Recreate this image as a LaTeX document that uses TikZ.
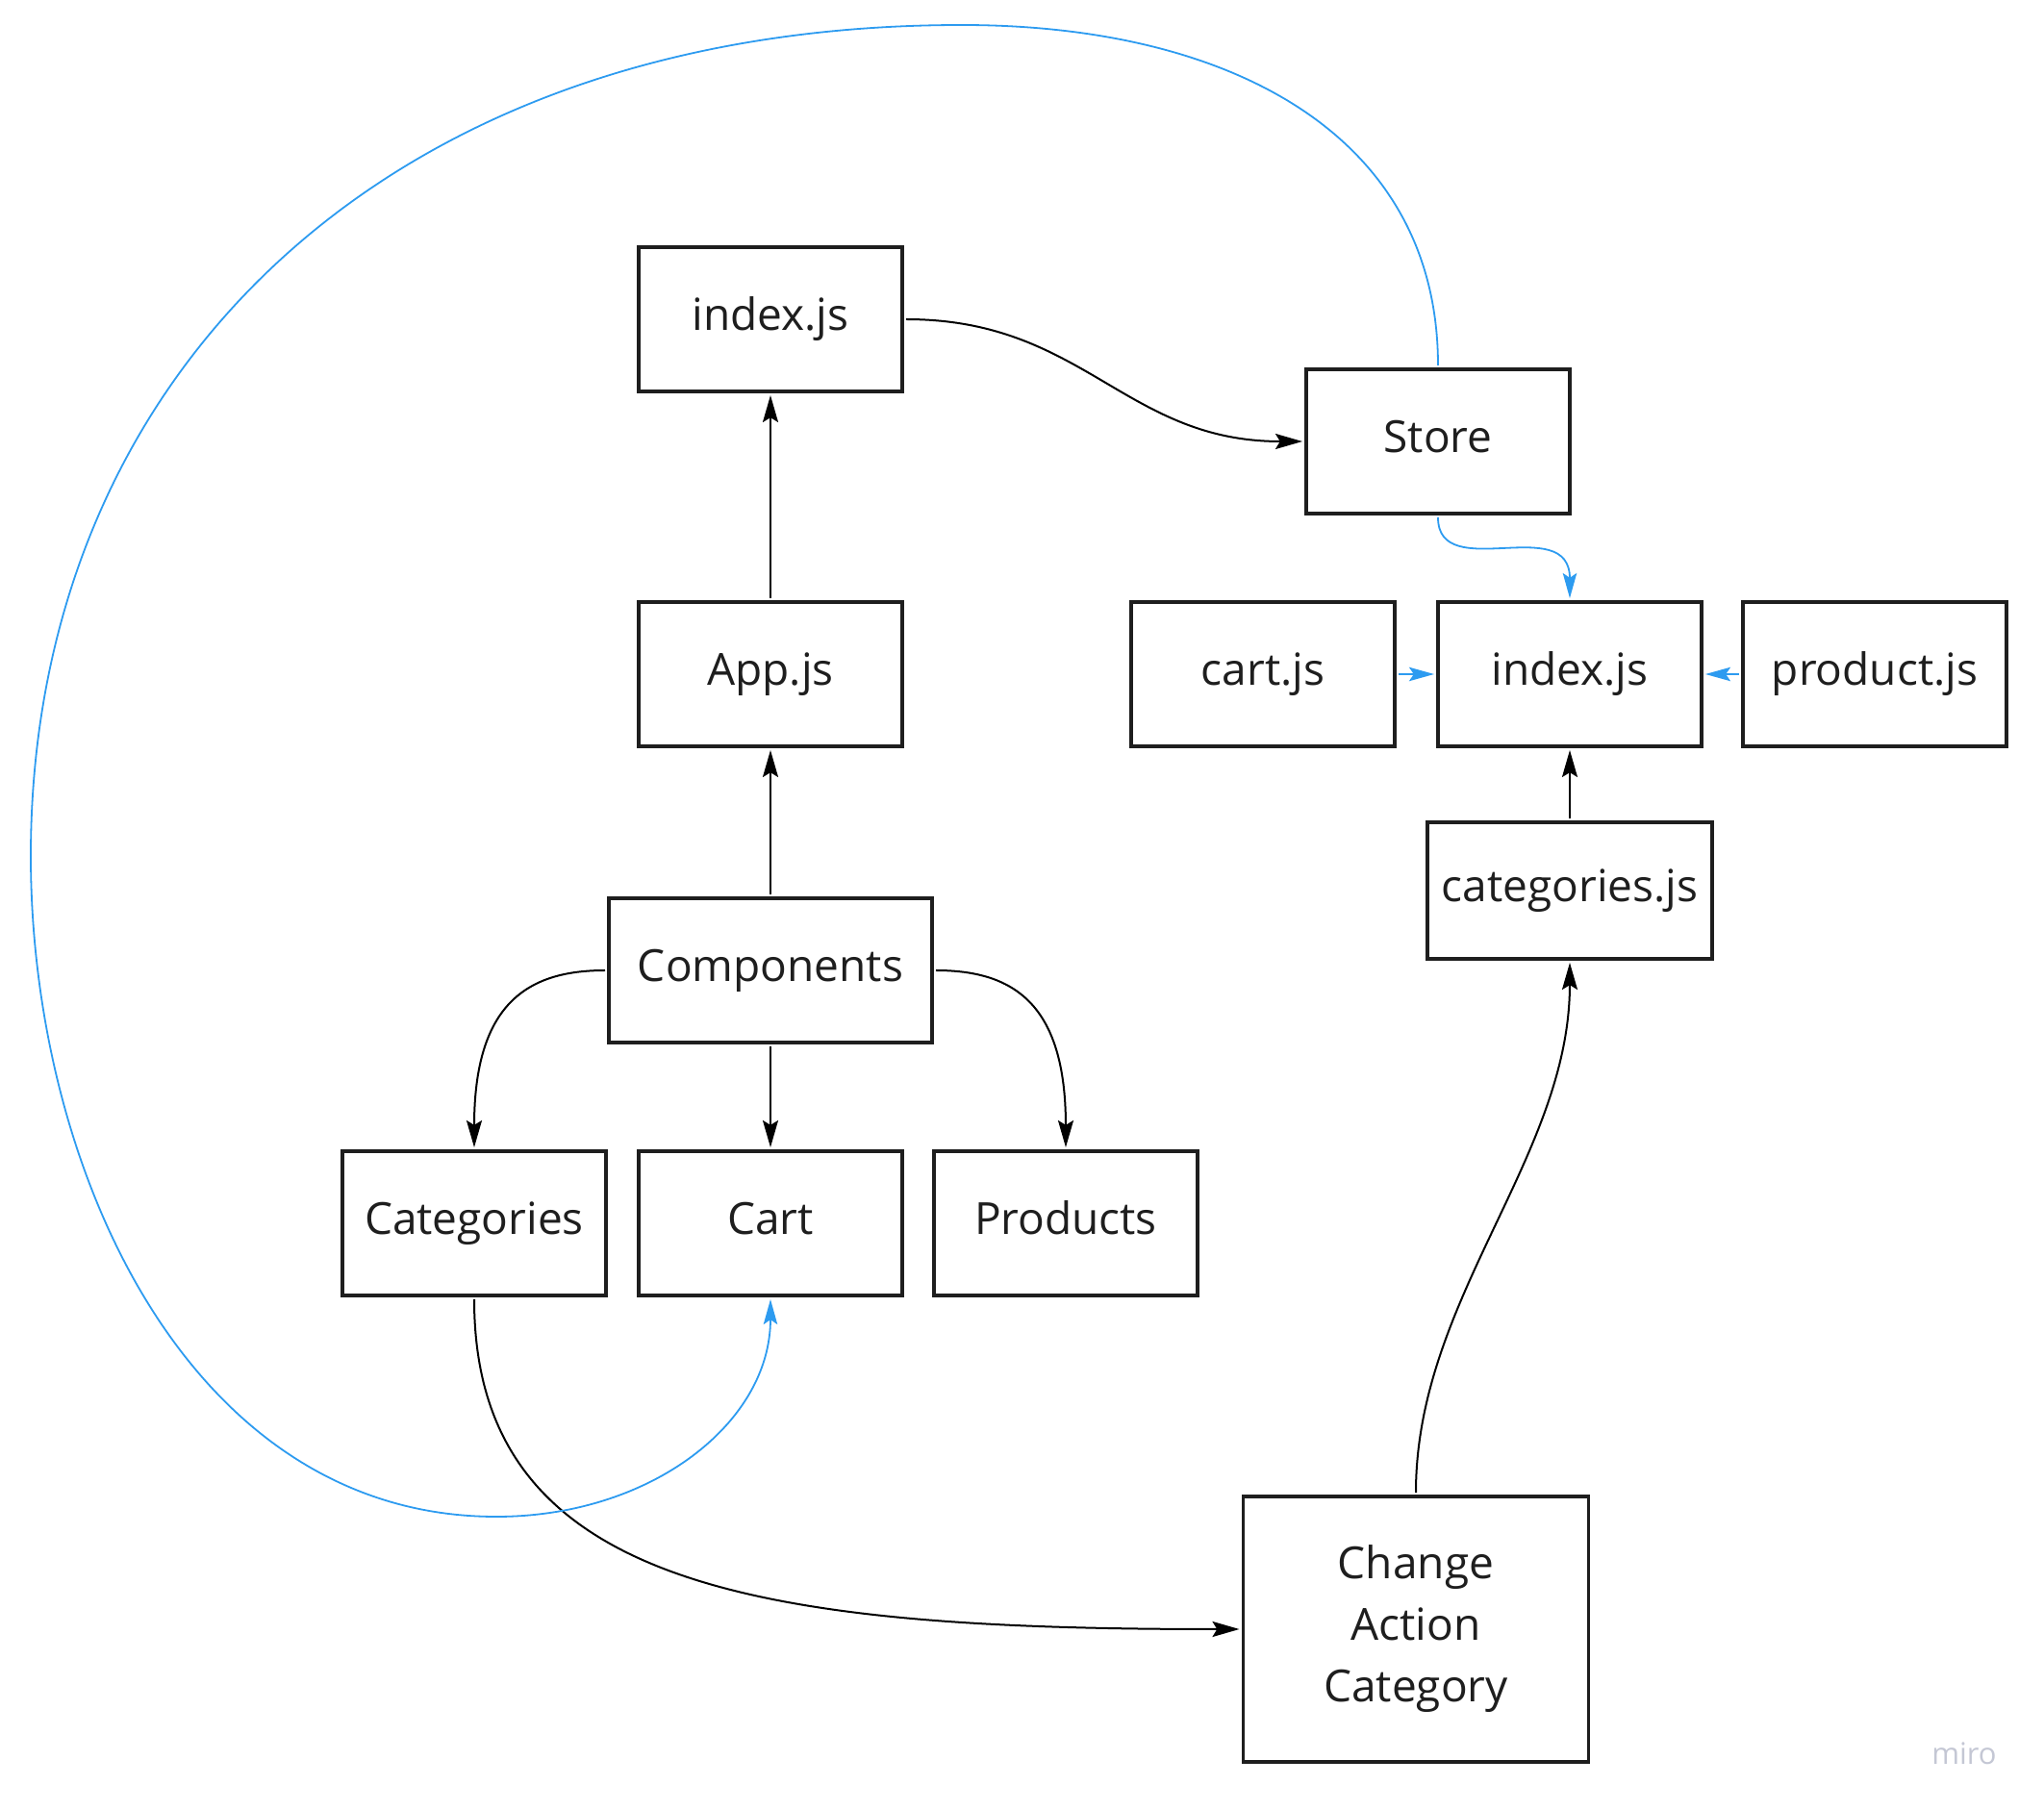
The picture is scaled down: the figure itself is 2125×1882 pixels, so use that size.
\documentclass[tikz,border=0pt]{standalone}
\usepackage{fontspec}
\setmainfont{Open Sans}
\usetikzlibrary{arrows.meta}
\definecolor{mirob}{RGB}{45,155,240}
\definecolor{boxline}{RGB}{30,30,30}
\definecolor{wm}{RGB}{196,199,212}
\begin{document}
\begin{tikzpicture}[x=0.25pt,y=-0.25pt,
  boxbase/.style={draw=boxline,line width=0.85pt,fill=white,minimum width=68.5pt,minimum height=37.5pt,inner sep=0pt,outer sep=1pt,align=center,font=\fontsize{11.5}{16}\selectfont,text=boxline},
  box/.style={boxbase,text height=8.6pt,text depth=2.9pt},
  conn/.style={line width=0.5pt,black,-{Stealth[length=7pt,width=4pt,inset=1.2pt]}},
  bconn/.style={line width=0.45pt,mirob,-{Stealth[length=6.5pt,width=3.6pt,inset=1.2pt]}}]
\useasboundingbox (0,0) rectangle (2125,1882);
% nodes
\node[box] (idxTop) at (801,332) {index.js};
\node[box] (store) at (1495,459) {Store};
\node[box] (app) at (801,701) {App.js};
\node[box] (cartjs) at (1313,701) {cart.js};
\node[box] (idxR) at (1632,701) {index.js};
\node[box] (prodjs) at (1949,701) {product.js};
\node[box,minimum width=74pt,minimum height=35.5pt] (catjs) at (1632,926) {categories.js};
\node[box,minimum width=84pt] (comp) at (801,1009) {Components};
\node[box] (categ) at (493,1272) {Categories};
\node[box] (cart) at (801,1272) {Cart};
\node[box] (prods) at (1108,1272) {Products};
\node[boxbase,minimum width=89.75pt,minimum height=69pt] (change) at (1472,1694) {Change\\Action\\Category};
\node[font=\fontsize{7.75}{9}\selectfont,text=wm] (miro) at (2042,1823) {miro};
% black connectors
\draw[conn] (app.north) -- (idxTop.south);
\draw[conn] (comp.north) -- (app.south);
\draw[conn] (comp.south) -- (cart.north);
\draw[conn] (idxTop.east) .. controls +(185,0) and +(-185,0) .. (store.west);
\draw[conn] (comp.west) .. controls +(-80,0) and +(0,-150) .. (categ.north);
\draw[conn] (comp.east) .. controls +(80,0) and +(0,-150) .. (prods.north);
\draw[conn] (catjs.north) -- (idxR.south);
\draw[conn] (change.north) .. controls +(0,-202) and +(0,202) .. (catjs.south);
\draw[conn] (categ.south) .. controls +(0,300) and +(-500,0) .. (change.west);
% blue connectors
\draw[bconn] (store.south) .. controls +(0,70) and +(0,-90) .. (idxR.north);
\draw[bconn] (cartjs.east) -- (idxR.west);
\draw[bconn] (prodjs.west) -- (idxR.east);
\draw[bconn] (store.north) .. controls (1495,141) and (1280,26) .. (1000,26)
  .. controls (400,26) and (32,390) .. (32,890)
  .. controls (32,1215) and (196,1577) .. (516,1577)
  .. controls (676,1577) and (801,1480) .. (cart.south);
\end{tikzpicture}
\end{document}
